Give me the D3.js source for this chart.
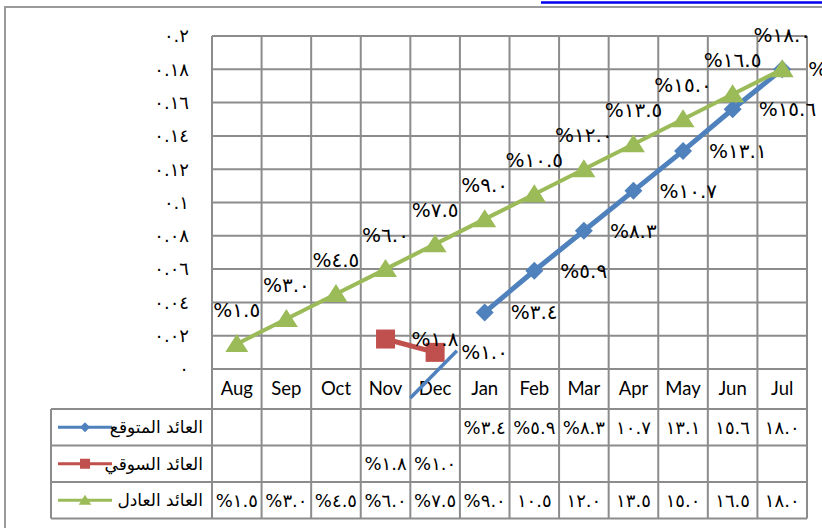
<!DOCTYPE html>
<html>
<head>
<meta charset="utf-8">
<script src="https://cdn.jsdelivr.net/npm/d3@7"></script>
<style>
  body { margin: 0; background: #fff; }
  svg { display: block; }
  .num { unicode-bidi: bidi-override; direction: ltr; }
</style>
</head>
<body>
<svg id="chart" width="822" height="528"></svg>
<script>
// categories and series (percent values)
const months = ['Aug', 'Sep', 'Oct', 'Nov', 'Dec', 'Jan', 'Feb', 'Mar', 'Apr', 'May', 'Jun', 'Jul'];
const expectedReturn = [null, null, null, null, null, 3.4, 5.9, 8.3, 10.7, 13.1, 15.6, 18.0];
const marketReturn = [null, null, null, 1.8, 1.0, null, null, null, null, null, null, null];
const fairReturn = [1.5, 3.0, 4.5, 6.0, 7.5, 9.0, 10.5, 12.0, 13.5, 15.0, 16.5, 18.0];
const yTicks = [0, 0.02, 0.04, 0.06, 0.08, 0.1, 0.12, 0.14, 0.16, 0.18, 0.2];
const seriesNames = ['العائد المتوقع', 'العائد السوقي', 'العائد العادل'];

const arabicDigits = '٠١٢٣٤٥٦٧٨٩';
const toArabic = s => String(s).replace(/[0-9]/g, d => arabicDigits[+d]);
const pctLabel = v => '%' + toArabic(v.toFixed(1));
const cellLabel = v => (v < 10 ? '%' : '') + toArabic(v.toFixed(1));

const svg = d3.select('#chart');
const grid = '#8c8c8c';
const plot = { left: 212, right: 807, top: 36, bottom: 369 };
const table = { left: 51, catBottom: 409, rowH: 36.5 };

const x = d3.scaleBand(months, [plot.left, plot.right]);
const y = d3.scaleLinear([0, 0.2], [plot.bottom, plot.top]);
const cx = m => x(m) + x.bandwidth() / 2;

const series = [
  { name: seriesNames[0], values: expectedReturn, color: '#4f81bd', marker: 'diamond', label: 'right' },
  { name: seriesNames[1], values: marketReturn, color: '#c0504d', marker: 'square', label: 'right' },
  { name: seriesNames[2], values: fairReturn, color: '#9bbb59', marker: 'triangle', label: 'top' }
];

// outer frame + link underline at top
svg.append('path').attr('d', 'M5,528V7H822').attr('fill', 'none').attr('stroke', '#9a9a9a').attr('stroke-width', 2);
svg.append('line').attr('x1', 541).attr('x2', 822).attr('y1', 2.5).attr('y2', 2.5)
  .attr('stroke', '#0000ee').attr('stroke-width', 2.5);

// horizontal gridlines
svg.append('g').selectAll('line').data(yTicks).join('line')
  .attr('x1', plot.left).attr('x2', plot.right)
  .attr('y1', d => y(d)).attr('y2', d => y(d))
  .attr('stroke', grid).attr('stroke-width', 2);

// vertical lines (plot + table)
const tableBottom = table.catBottom + 3 * table.rowH;
svg.append('g').selectAll('line').data(months.concat(['end'])).join('line')
  .attr('x1', (d, i) => i < months.length ? x(d) : plot.right)
  .attr('x2', (d, i) => i < months.length ? x(d) : plot.right)
  .attr('y1', plot.top).attr('y2', tableBottom)
  .attr('stroke', grid).attr('stroke-width', 2);

// table horizontal rules
svg.append('g').selectAll('line').data(d3.range(4)).join('line')
  .attr('x1', table.left).attr('x2', plot.right)
  .attr('y1', i => table.catBottom + i * table.rowH).attr('y2', i => table.catBottom + i * table.rowH)
  .attr('stroke', grid).attr('stroke-width', 2);
svg.append('line').attr('x1', table.left).attr('x2', table.left)
  .attr('y1', table.catBottom).attr('y2', tableBottom)
  .attr('stroke', grid).attr('stroke-width', 2);

// y tick labels
svg.append('g').selectAll('text').data(yTicks).join('text')
  .attr('class', 'num')
  .attr('x', 189).attr('y', d => y(d)).attr('dy', '0.35em')
  .attr('text-anchor', 'end')
  .style('font', '18px "DejaVu Sans"').attr('fill', '#000')
  .text(d => toArabic(+d.toFixed(2)));

// category labels
svg.append('g').selectAll('text').data(months).join('text')
  .attr('x', cx).attr('y', (plot.bottom + table.catBottom) / 2).attr('dy', '0.35em')
  .attr('text-anchor', 'middle')
  .style('font', '18.5px Lato').attr('fill', '#000')
  .text(d => d);

function drawMarker(g, type, color, size) {
  if (type === 'diamond') {
    g.append('path').attr('d', `M0,${-size}L${size},0L0,${size}L${-size},0Z`).attr('fill', color);
  } else if (type === 'square') {
    g.append('rect').attr('x', -size).attr('y', -size).attr('width', 2 * size).attr('height', 2 * size).attr('fill', color);
  } else {
    g.append('path').attr('d', `M0,${-size}L${size * 1.15},${size * 0.8}L${-size * 1.15},${size * 0.8}Z`).attr('fill', color);
  }
}

const markerSize = { diamond: 9, square: 9.5, triangle: 10 };

// lines, markers
series.forEach(s => {
  const pts = months.map((m, i) => ({ m, v: s.values[i] })).filter(d => d.v != null);
  const line = d3.line().x(d => cx(d.m)).y(d => y(d.v / 100));
  svg.append('path').datum(pts).attr('d', line)
    .attr('fill', 'none').attr('stroke', s.color).attr('stroke-width', s.marker === 'triangle' ? 4 : 5)
    .attr('stroke-linejoin', 'round');
  pts.forEach(d => {
    const g = svg.append('g').attr('transform', `translate(${cx(d.m)},${y(d.v / 100)})`);
    drawMarker(g, s.marker, s.color, markerSize[s.marker]);
  });
});

// stray connector segment near Dec
svg.append('line')
  .attr('x1', x('Dec')).attr('y1', table.catBottom - 11)
  .attr('x2', x('Jan') - 3).attr('y2', y(0.011))
  .attr('stroke', '#4f81bd').attr('stroke-width', 3.5);

// data labels
series.forEach(s => {
  const pts = months.map((m, i) => ({ m, v: s.values[i] })).filter(d => d.v != null);
  svg.append('g').selectAll('text').data(pts).join('text')
    .attr('class', 'num')
    .attr('x', d => s.label === 'top' ? cx(d.m) : cx(d.m) + 26)
    .attr('y', d => s.label === 'top' ? y(d.v / 100) - 34 : y(d.v / 100))
    .attr('dy', '0.35em')
    .attr('text-anchor', s.label === 'top' ? 'middle' : 'start')
    .style('font', '20px "DejaVu Sans"').attr('fill', '#000')
    .text(d => pctLabel(d.v));
});

// data table: legend keys + values
series.forEach((s, r) => {
  const rowY = table.catBottom + r * table.rowH + table.rowH / 2;
  svg.append('line').attr('x1', 58).attr('x2', 112).attr('y1', rowY).attr('y2', rowY)
    .attr('stroke', s.color).attr('stroke-width', 3);
  const g = svg.append('g').attr('transform', `translate(85,${rowY})`);
  drawMarker(g, s.marker, s.color, s.marker === 'triangle' ? 5.5 : 5);
  svg.append('text').attr('x', 203).attr('y', rowY).attr('dy', '0.35em')
    .attr('text-anchor', 'end')
    .style('font', '17px "DejaVu Sans"').attr('fill', '#000')
    .text(s.name);
  const cells = months.map((m, i) => ({ m, v: s.values[i] })).filter(d => d.v != null);
  svg.append('g').selectAll('text').data(cells).join('text')
    .attr('class', 'num')
    .attr('x', d => cx(d.m)).attr('y', rowY).attr('dy', '0.35em')
    .attr('text-anchor', 'middle')
    .style('font', '18px "DejaVu Sans"').attr('fill', '#000')
    .text(d => cellLabel(d.v));
});
</script>
</body>
</html>
